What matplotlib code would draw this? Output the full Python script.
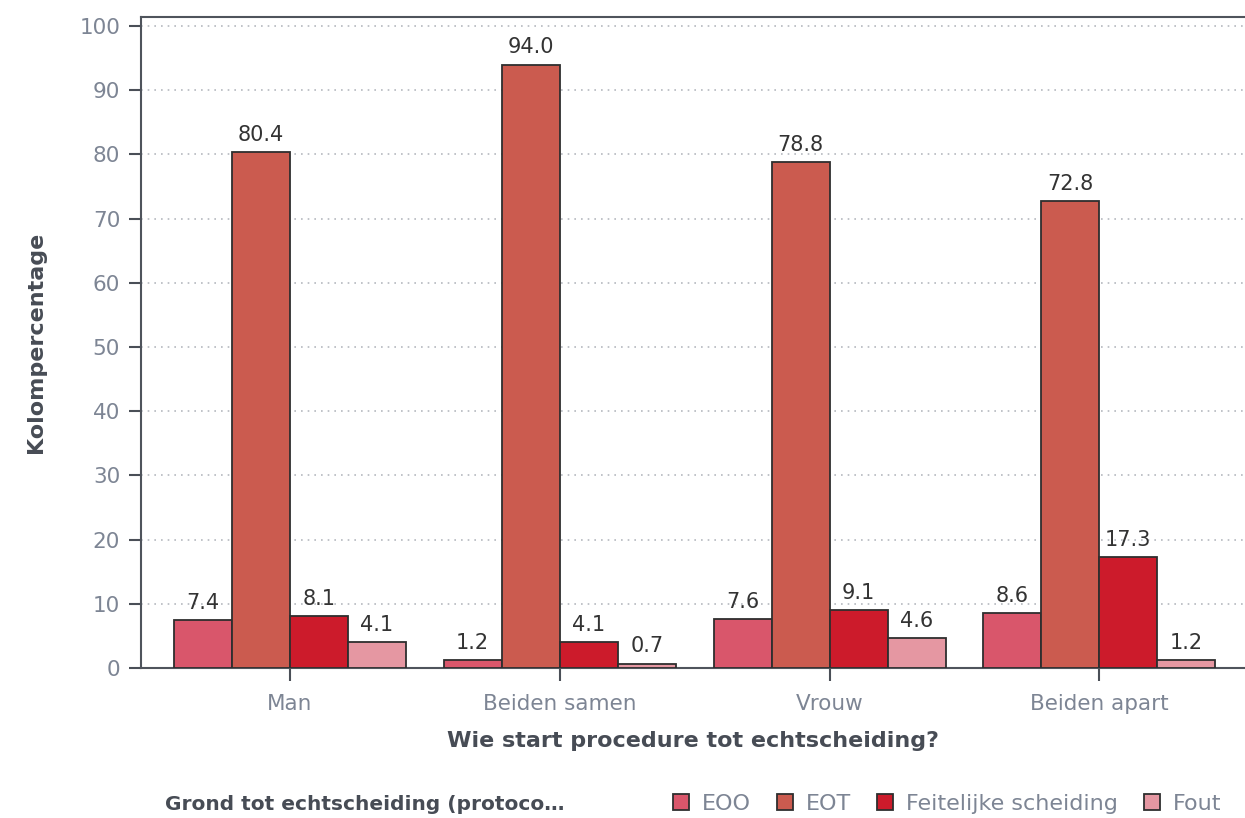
import numpy as np
import matplotlib
matplotlib.use('Agg')
import matplotlib.pyplot as plt
from matplotlib.patches import Patch

plt.rcParams['font.family'] = ['DejaVu Sans']

# data
categories = ['Man', 'Beiden samen', 'Vrouw', 'Beiden apart']
series = ['EOO', 'EOT', 'Feitelijke scheiding', 'Fout']
eoo = [7.4, 1.2, 7.6, 8.6]
eot = [80.4, 94.0, 78.8, 72.8]
feitelijk = [8.1, 4.1, 9.1, 17.3]
fout = [4.1, 0.7, 4.6, 1.2]
values = [eoo, eot, feitelijk, fout]

colors = ['#d9566b', '#cb5b4f', '#cc1b2b', '#e597a2']
edge = '#2e2e2e'
tick_col = '#7d8594'
label_col = '#474c55'

fig = plt.figure(figsize=(12.45, 8.18), dpi=100)
ax = fig.add_axes([141 / 1245, 1 - 668 / 818, 1 - 141 / 1245, (668 - 17) / 818])

x = np.arange(len(categories))
w = 0.215
for i, (vals, c) in enumerate(zip(values, colors)):
    pos = x + (i - 1.5) * w
    ax.bar(pos, vals, width=w, color=c, edgecolor=edge, linewidth=1.3, zorder=3)
    for px, v in zip(pos, vals):
        ax.text(px, v + 1.1, f'{v:.1f}', ha='center', va='bottom',
                fontsize=15, color='#333333', zorder=4)

ax.set_ylim(0, 101.4)
ax.set_xlim(-0.552, 3.54)
ax.set_yticks(np.arange(0, 101, 10))
ax.yaxis.grid(True, linestyle=(0, (1, 3)), color='#b5b9bf', linewidth=1.2, zorder=0)
ax.set_xticks(x)
ax.set_xticklabels(categories)
ax.tick_params(axis='both', colors='#4a4f57', labelcolor=tick_col, labelsize=15.5,
               length=9, width=1.5, pad=6)
ax.tick_params(axis='x', pad=10)

for s in ['left', 'top', 'bottom']:
    ax.spines[s].set_color('#4f545c')
    ax.spines[s].set_linewidth(1.5)
ax.spines['right'].set_visible(False)

ax.set_ylabel('Kolompercentage', fontsize=16, color=label_col, fontweight='bold', labelpad=24)
ax.set_xlabel('Wie start procedure tot echtscheiding?', fontsize=16, color=label_col,
              fontweight='bold', labelpad=12)

fig.text(165 / 1245, 1 - 805 / 818, 'Grond tot echtscheiding (protoco\u2026', fontsize=14.5,
         color=label_col, fontweight='bold', va='center', ha='left')
handles = [Patch(facecolor=c, edgecolor=edge, linewidth=1.3) for c in colors]
leg = fig.legend(handles, series, loc='center left', bbox_to_anchor=(664 / 1245, 1 - 804 / 818),
                 ncol=4, frameon=False, fontsize=16, handlelength=0.72, handleheight=0.72,
                 handletextpad=0.6, columnspacing=1.15, borderaxespad=0)
for t in leg.get_texts():
    t.set_color(tick_col)

fig.savefig('out.png', dpi=100)
